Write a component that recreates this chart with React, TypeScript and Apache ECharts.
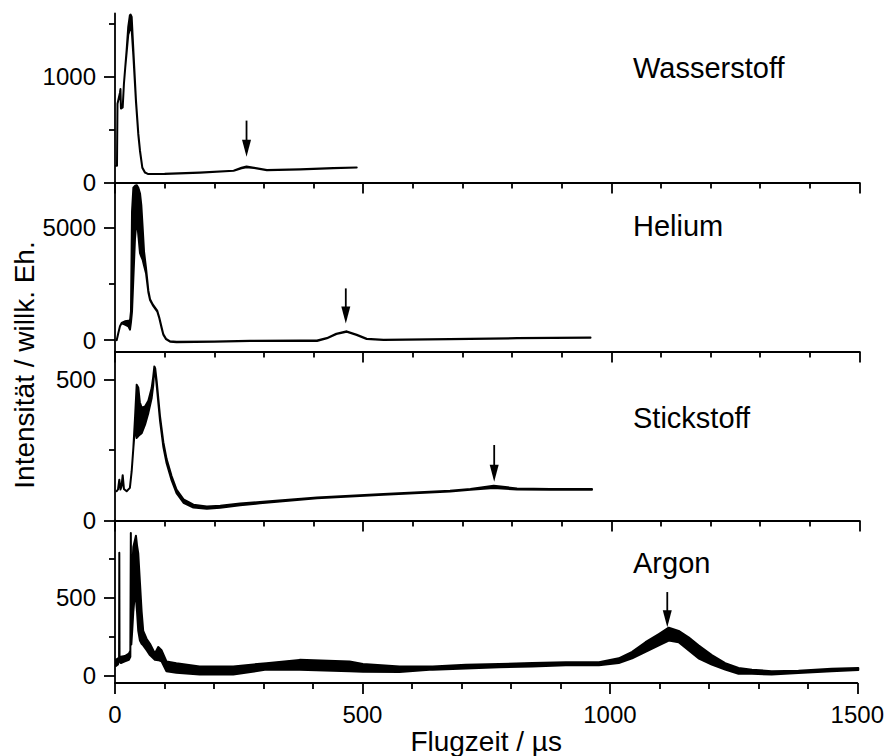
import React, { useEffect, useRef } from "react";
import * as echarts from "echarts";

const FONT = '"Liberation Sans", Arial, Helvetica, sans-serif';

const gasNames = ["Wasserstoff", "Helium", "Stickstoff", "Argon"];

// Wasserstoff (time in µs, lower / upper envelope of the trace)
const h2Time = [2, 4, 5, 10, 11, 12, 15.5, 18, 20.7, 23.4, 26.7, 30, 31.5, 33.6, 37, 42.3, 47, 50.4, 55, 60.5, 67, 100, 171, 239, 255, 265, 280, 306, 373, 440, 487];
const h2Low = [158, 158, 745, 840, 870, 700, 711, 935, 1093, 1230, 1400, 1450, 1500, 1450, 1200, 760, 450, 295, 140, 93, 80, 80, 92, 111, 135, 145, 138, 117, 123, 136, 142];
const h2High = [158, 158, 745, 850, 885, 710, 711, 935, 1093, 1251, 1473, 1584, 1590, 1567, 1251, 776, 460, 301, 143, 95, 80, 82, 95, 112, 140, 152, 140, 119, 125, 137, 143];

// Helium
const heTime = [3.4, 6.7, 10, 13.4, 20, 26.9, 30.2, 32.2, 34.3, 37, 40.3, 43.7, 47, 50.4, 53, 55.8, 58.5, 62.5, 67.2, 70.6, 76, 80.6, 85.3, 89.3, 94, 97.4, 102.8, 111, 124, 200, 272, 373, 407, 427, 446, 467, 487, 507, 541, 675, 810, 958];
const heLow = [0, 323, 619, 765, 690, 619, 469, 800, 1283, 2755, 4524, 5409, 4670, 3861, 3715, 3565, 3317, 2977, 2130, 1780, 1560, 1415, 1270, 975, 530, 240, 50, -65, -85, -70, -35, -30, -30, 85, 275, 375, 230, 55, 10, 40, 85, 110];
const heHigh = [0, 323, 619, 765, 840, 867, 850, 1283, 5705, 6767, 6855, 6882, 6767, 6515, 5997, 4967, 3936, 3198, 2200, 1820, 1590, 1445, 1300, 1000, 560, 260, 65, -50, -70, -55, -20, -15, -15, 95, 290, 395, 245, 65, 20, 50, 95, 120];

// Stickstoff
const n2Time = [3.4, 6, 8.7, 11, 13, 15.5, 18, 23.5, 30, 33.6, 37, 40.3, 43.7, 47, 50, 53.8, 60.5, 67.2, 73.9, 77, 79.3, 81, 84, 90.7, 97.4, 104, 114, 124, 138, 158, 185, 212, 252, 292, 407, 541, 675, 716, 763, 810, 877, 961];
const n2Low = [104, 110, 145, 110, 120, 161, 112, 104, 116, 175, 258, 330, 293, 300, 305, 310, 340, 382, 435, 480, 540, 530, 480, 355, 262, 203, 143, 97, 63, 46, 42, 45, 54, 61, 79, 91, 103, 109, 115, 110, 109, 109];
const n2High = [104, 110, 145, 110, 120, 161, 112, 104, 116, 175, 258, 364, 482, 471, 420, 400, 405, 425, 470, 510, 547, 540, 494, 370, 278, 218, 158, 110, 75, 56, 50, 52, 60, 66, 82, 94, 106, 112, 123, 114, 112, 112];

// Argon
const arTime = [2, 6, 8.2, 8.7, 9.2, 12, 20, 28, 31, 32, 33, 35, 37, 40, 42.3, 44.5, 47, 50.4, 53.8, 57, 64, 70.6, 80.6, 87.4, 94, 104, 124, 171, 239, 306, 373, 474, 501, 575, 642, 709, 776, 843, 911, 978, 1018, 1045, 1072, 1099, 1119, 1139, 1159, 1179, 1206, 1233, 1260, 1287, 1327, 1381, 1448, 1502];
const arLow = [60, 70, 90, 792, 100, 80, 90, 100, 120, 919, 200, 300, 412, 519, 500, 412, 287, 225, 204, 194, 162, 131, 100, 98, 90, 27, 17, 6, 6, 37, 37, 27, 23, 22, 37, 44, 52, 58, 65, 65, 79, 110, 152, 194, 225, 214, 162, 110, 69, 37, 10, 10, 6, 15, 27, 35];
const arHigh = [100, 110, 90, 792, 100, 120, 125, 140, 160, 919, 300, 700, 829, 870, 902, 840, 787, 600, 412, 287, 235, 204, 142, 183, 162, 90, 79, 58, 58, 79, 100, 90, 73, 58, 58, 69, 73, 79, 85, 85, 110, 152, 214, 267, 308, 287, 246, 194, 131, 79, 48, 37, 27, 30, 42, 48];

// axis ranges and ticks per panel
const yMin = [0, -500, 0, -50];
const yMax = [1600, 7000, 600, 1000];
const yMajorTicks = [[0, 1000], [0, 5000], [0, 500], [0, 500]];
const yMinorTicks = [[500, 1500], [2500], [250], [250, 750]];
const xMin = 0;
const xMax = 1500;
const xInterval = 500;

// arrows marking the peaks
const arrowTime = [265, 465, 764, 1116];
const arrowFrom = [586, 2300, 268, 538];
const arrowTo = [243, 740, 138, 310];

const panels = [
  { time: h2Time, low: h2Low, high: h2High },
  { time: heTime, low: heLow, high: heHigh },
  { time: n2Time, low: n2Low, high: n2High },
  { time: arTime, low: arLow, high: arHigh },
];

const labelY = [68, 226, 418, 563];

export default function App() {
  const ref = useRef<HTMLDivElement>(null);
  useEffect(() => {
    if (!ref.current) return;
    const chart = echarts.init(ref.current, undefined, { renderer: "svg" });
    const black = "#000";
    const axisLineStyle = { color: black, width: 1.8 };
    const plain = (v: number) => String(v);
    const grids = panels.map((_, i) => ({
      left: 115,
      width: 744.5,
      top: 13.5 + 169 * i,
      height: 169,
      containLabel: false,
    }));
    const xAxes = panels.map((_, i) => ({
      type: "value",
      gridIndex: i,
      min: xMin,
      max: xMax,
      interval: xInterval,
      axisLine: { show: true, onZero: false, lineStyle: axisLineStyle },
      axisTick: { show: true, length: 11, lineStyle: axisLineStyle },
      minorTick: { show: true, splitNumber: 5, length: 6, lineStyle: axisLineStyle },
      axisLabel: {
        show: i === 3,
        color: black,
        fontSize: 24,
        fontFamily: FONT,
        margin: 19,
        formatter: plain,
      },
      splitLine: { show: false },
      minorSplitLine: { show: false },
      name: i === 3 ? "Flugzeit / µs" : "",
      nameLocation: "middle",
      nameGap: 42,
      nameTextStyle: { color: black, fontSize: 28, fontFamily: FONT },
    }));
    const yMajor = panels.map((_, i) => ({
      type: "value",
      gridIndex: i,
      position: "left",
      min: yMin[i],
      max: yMax[i],
      axisLine: { show: true, onZero: false, lineStyle: axisLineStyle },
      axisTick: { show: true, length: 11, customValues: yMajorTicks[i], lineStyle: axisLineStyle },
      axisLabel: {
        show: true,
        customValues: yMajorTicks[i],
        color: black,
        fontSize: 24,
        fontFamily: FONT,
        margin: 19,
        formatter: plain,
      },
      splitLine: { show: false },
    }));
    const yMinor = panels.map((_, i) => ({
      type: "value",
      gridIndex: i,
      position: "left",
      offset: 0,
      min: yMin[i],
      max: yMax[i],
      axisLine: { show: false, onZero: false },
      axisTick: { show: true, length: 6, customValues: yMinorTicks[i], lineStyle: axisLineStyle },
      axisLabel: { show: false },
      splitLine: { show: false },
    }));

    const series: any[] = [];
    panels.forEach((p, i) => {
      series.push({
        type: "custom",
        name: gasNames[i],
        xAxisIndex: i,
        yAxisIndex: i,
        data: p.time.map((t, k) => [t, p.low[k], p.high[k]]),
        encode: { x: 0, y: [1, 2] },
        silent: true,
        z: 3,
        renderItem: (params: any, api: any) => {
          if (params.dataIndex !== 0) return null;
          const pts: number[][] = [];
          for (let k = 0; k < p.time.length; k++) pts.push(api.coord([p.time[k], p.low[k]]));
          for (let k = p.time.length - 1; k >= 0; k--) pts.push(api.coord([p.time[k], p.high[k]]));
          return {
            type: "polygon",
            shape: { points: pts },
            style: { fill: black, stroke: black, lineWidth: 2, lineJoin: "round" },
          };
        },
      });
      series.push({
        type: "custom",
        name: gasNames[i] + " arrow",
        xAxisIndex: i,
        yAxisIndex: i,
        data: [[arrowTime[i], arrowFrom[i], arrowTo[i]]],
        encode: { x: 0, y: [1, 2] },
        silent: true,
        z: 4,
        renderItem: (params: any, api: any) => {
          const a = api.coord([api.value(0), api.value(1)]);
          const b = api.coord([api.value(0), api.value(2)]);
          return {
            type: "group",
            children: [
              {
                type: "line",
                shape: { x1: a[0], y1: a[1], x2: b[0], y2: b[1] - 14 },
                style: { stroke: black, lineWidth: 1.8 },
              },
              {
                type: "polygon",
                shape: { points: [[b[0] - 4.5, b[1] - 17], [b[0] + 4.5, b[1] - 17], [b[0], b[1]]] },
                style: { fill: black },
              },
            ],
          };
        },
      });
    });

    const graphic: any[] = gasNames.map((n, i) => ({
      type: "text",
      x: 633,
      y: labelY[i],
      style: {
        text: n,
        fill: black,
        fontSize: 29,
        fontFamily: FONT,
        align: "left",
        verticalAlign: "middle",
      },
    }));
    graphic.push({
      type: "text",
      x: 24,
      y: 365,
      rotation: Math.PI / 2,
      style: {
        text: "Intensität / willk. Eh.",
        fill: black,
        fontSize: 28,
        fontFamily: FONT,
        align: "center",
        verticalAlign: "middle",
      },
    });

    chart.setOption({
      animation: false,
      backgroundColor: "#fff",
      grid: grids,
      xAxis: xAxes,
      yAxis: [...yMajor, ...yMinor],
      series,
      graphic,
    });
    return () => chart.dispose();
  }, []);
  return (
    <div
      ref={ref}
      style={{ position: "absolute", left: 0, top: 0, width: 887, height: 756 }}
    />
  );
}
